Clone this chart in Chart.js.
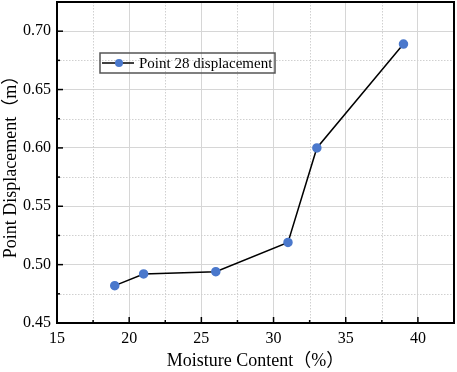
<!DOCTYPE html>
<html>
<head>
<meta charset="utf-8">
<script src="https://cdn.jsdelivr.net/npm/chart.js@4/dist/chart.umd.min.js"></script>
<style>
  html, body { margin: 0; padding: 0; background: #fff; }
  #wrap { width: 457px; height: 372px; }
</style>
</head>
<body>
<div id="wrap"><canvas id="myChart"></canvas></div>
<script>
// --- DATA ---
const moisture = [19, 21, 26, 31, 33, 39];
const displacement = [0.482, 0.492, 0.494, 0.519, 0.600, 0.689];
const seriesLabel = 'Point 28 displacement';
const xTitle = 'Moisture Content（%）';
const yTitle = 'Point Displacement（m）';

const FONT = "'Liberation Serif', 'Times New Roman', 'Noto Sans CJK SC', serif";
const BLUE = '#4a78cc';

// minor grid, inward ticks, frame, legend
const framePlugin = {
    id: 'frame',
    beforeDatasetsDraw(chart) {
        const { ctx, chartArea: a, scales: { x, y } } = chart;
        ctx.save();
        ctx.strokeStyle = '#d0d0d0';
        ctx.lineWidth = 1;
        ctx.setLineDash([1.5, 1.5]);
        for (let v = x.min + 2.5; v < x.max; v += 5) {
            const px = Math.round(x.getPixelForValue(v)) + 0.5;
            ctx.beginPath(); ctx.moveTo(px, a.top); ctx.lineTo(px, a.bottom); ctx.stroke();
        }
        for (let v = y.min + 0.025; v < y.max - 0.001; v += 0.05) {
            const py = Math.round(y.getPixelForValue(v)) + 0.5;
            ctx.beginPath(); ctx.moveTo(a.left, py); ctx.lineTo(a.right, py); ctx.stroke();
        }
        ctx.restore();
    },
    afterDraw(chart) {
        const { ctx, chartArea: a, scales: { x, y } } = chart;
        ctx.save();
        ctx.strokeStyle = '#000';
        ctx.lineWidth = 1.5;
        // inward ticks
        for (let v = x.min; v <= x.max; v += 2.5) {
            const px = x.getPixelForValue(v);
            const len = (v % 5 === 0) ? 6 : 3;
            ctx.beginPath(); ctx.moveTo(px, a.bottom); ctx.lineTo(px, a.bottom - len); ctx.stroke();
        }
        for (let v = y.min; v <= y.max + 0.001; v += 0.025) {
            const py = y.getPixelForValue(v);
            const major = Math.abs((v / 0.05) - Math.round(v / 0.05)) < 0.01;
            const len = major ? 6 : 3;
            ctx.beginPath(); ctx.moveTo(a.left, py); ctx.lineTo(a.left + len, py); ctx.stroke();
        }
        ctx.lineWidth = 2;
        ctx.strokeRect(a.left, a.top, a.right - a.left, a.bottom - a.top);

        // legend box
        const lx = 100, ly = 53, lw = 175, lh = 20;
        ctx.lineWidth = 1.5;
        ctx.strokeStyle = '#555';
        ctx.strokeRect(lx, ly, lw, lh);
        const cy = ly + lh / 2;
        ctx.strokeStyle = '#000';
        ctx.lineWidth = 1.5;
        ctx.beginPath(); ctx.moveTo(lx + 2, cy); ctx.lineTo(lx + 34, cy); ctx.stroke();
        ctx.fillStyle = BLUE;
        ctx.beginPath(); ctx.arc(lx + 19, cy, 4, 0, Math.PI * 2); ctx.fill();
        ctx.fillStyle = '#000';
        ctx.font = '15px ' + FONT;
        ctx.textBaseline = 'middle';
        ctx.fillText(seriesLabel, lx + 39, cy + 1);
        ctx.restore();
    }
};

const ctx = document.getElementById('myChart').getContext('2d');
new Chart(ctx, {
    type: 'line',
    data: {
        datasets: [{
            label: seriesLabel,
            data: moisture.map((m, i) => ({ x: m, y: displacement[i] })),
            borderColor: '#000',
            borderWidth: 1.5,
            pointBackgroundColor: BLUE,
            pointBorderColor: BLUE,
            pointRadius: 4,
            tension: 0
        }]
    },
    options: {
        responsive: true,
        maintainAspectRatio: false,
        animation: false,
        layout: { autoPadding: false, padding: { top: 2, right: 3, left: 0, bottom: 0 } },
        plugins: { legend: { display: false }, tooltip: { enabled: false } },
        scales: {
            x: {
                type: 'linear',
                min: 15, max: 42.5,
                afterFit: s => { s.height = 49; s.paddingLeft = 0; s.paddingRight = 0; },
                border: { display: false },
                grid: { color: '#d6d6d6', drawTicks: false },
                ticks: {
                    stepSize: 5, includeBounds: false, padding: 6,
                    color: '#000', font: { family: FONT, size: 16 }
                },
                title: {
                    display: true, text: xTitle, color: '#000',
                    padding: 0, font: { family: FONT, size: 18 }
                }
            },
            y: {
                type: 'linear',
                min: 0.45, max: 0.725,
                afterFit: s => { s.width = 57; s.paddingTop = 0; s.paddingBottom = 0; },
                border: { display: false },
                grid: { color: '#d6d6d6', drawTicks: false },
                ticks: {
                    stepSize: 0.05, includeBounds: false, padding: 6,
                    color: '#000', font: { family: FONT, size: 16 },
                    callback: v => v.toFixed(2)
                },
                title: {
                    display: true, text: yTitle, color: '#000',
                    padding: 0, font: { family: FONT, size: 18 }
                }
            }
        }
    },
    plugins: [framePlugin]
});
</script>
</body>
</html>
